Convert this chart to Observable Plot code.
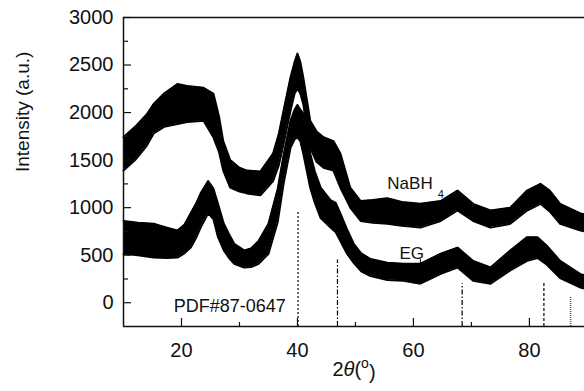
<!DOCTYPE html>
<html>
<head>
<meta charset="utf-8">
<script src="https://cdn.jsdelivr.net/npm/d3@7"></script>
<script src="https://cdn.jsdelivr.net/npm/@observablehq/plot@0.6"></script>
<style>
  html, body { margin: 0; padding: 0; background: #fff; }
  svg { display: block; }
</style>
</head>
<body>
<div id="chart"></div>
<script>
// ---- data ----
const nabhX  = [10, 12, 14, 15.2, 17, 19.3, 21, 23.8, 25.5, 26.5, 27.2, 28.4, 30, 31.3, 33.6, 35.8, 36.8, 37.6, 38.8, 39.5, 40, 40.5, 41, 42.2, 43.3, 44.5, 46.2, 47.4, 48.3, 49.1, 50.9, 53, 55.5, 58, 61.2, 64.7, 67.6, 70.3, 73.3, 76.7, 79.6, 81.9, 83.5, 85.3, 88.8, 89.5];
const nabhLo = [1390, 1500, 1650, 1780, 1850, 1880, 1900, 1915, 1740, 1580, 1390, 1210, 1170, 1150, 1130, 1280, 1450, 1670, 2020, 2200, 2250, 2200, 2090, 1630, 1480, 1420, 1390, 1210, 1100, 1000, 860, 840, 830, 810, 790, 860, 970, 860, 790, 830, 970, 1040, 960, 830, 760, 750];
const nabhHi = [1740, 1850, 1980, 2090, 2200, 2300, 2280, 2260, 2200, 1950, 1700, 1500, 1420, 1390, 1380, 1570, 1780, 2020, 2370, 2530, 2620, 2530, 2370, 1915, 1800, 1740, 1700, 1570, 1380, 1210, 1070, 1080, 1100, 1060, 1040, 1070, 1180, 1040, 970, 1000, 1180, 1250, 1180, 1040, 940, 930];

const egX  = [10, 12.5, 15.2, 17.5, 19.3, 20.5, 21.6, 22.5, 23.3, 24.6, 25.5, 26.3, 27.3, 28.2, 29.1, 30.8, 32, 33.3, 35, 36.6, 37.6, 38.8, 39.5, 40, 40.5, 41, 42.2, 43, 44, 45.7, 46.6, 47.4, 48.5, 49.7, 51, 52.6, 55.5, 58.3, 61.2, 64.7, 67.6, 70.3, 73.3, 76.7, 79.6, 81.4, 83, 85.3, 88.8, 89.5];
const egLo = [515, 500, 475, 470, 475, 520, 580, 680, 790, 940, 880, 690, 550, 470, 410, 370, 375, 410, 515, 850, 1250, 1630, 1720, 1740, 1700, 1570, 1210, 1050, 890, 790, 740, 650, 520, 420, 330, 280, 240, 230, 200, 305, 370, 230, 200, 340, 440, 470, 400, 260, 160, 150];
const egHi = [860, 840, 830, 790, 760, 820, 940, 1040, 1150, 1280, 1200, 1040, 830, 720, 620, 550, 570, 650, 830, 1200, 1550, 1910, 2030, 2080, 2030, 1990, 1570, 1380, 1210, 1080, 1050, 940, 780, 620, 520, 460, 420, 410, 410, 515, 580, 440, 370, 550, 690, 690, 600, 440, 300, 290];

// PDF#87-0647 reference lines (position, top value)
const pdfPos = [40.1, 46.9, 68.4, 82.5, 87.1];
const pdfTop = [970, 450, 200, 210, 55];

// tick values
const xMajor = [20, 40, 60, 80];
const xMinor = [30, 50, 70];
const yMajor = [0, 500, 1000, 1500, 2000, 2500, 3000];
const yMinor = [250, 750, 1250, 1750, 2250, 2750];

// ---- build tables ----
const nabh = nabhX.map((x, i) => ({x, lo: nabhLo[i], hi: nabhHi[i]}));
const eg = egX.map((x, i) => ({x, lo: egLo[i], hi: egHi[i]}));
const pdf = pdfPos.map((x, i) => ({x, top: pdfTop[i]}));

const W = 584, H = 391, mL = 123, mR = 0, mT = 17, mB = 65;
const frameW = W - mL - mR, frameH = H - mT - mB;
const dashes = ["2,2", "5,2,1.5,2", "5,2,1.5,2", "3,2", "1,1"];
const font = "'Liberation Sans', Arial, sans-serif";

const marks = [];
// reference lines
pdf.forEach((d, i) => {
  marks.push(Plot.ruleX([d], {x: "x", y1: -250, y2: "top", stroke: i === 4 ? "#555" : "#000", strokeWidth: i === 4 ? 1.6 : 1.2, strokeDasharray: dashes[i]}));
});
// bands
for (const s of [nabh, eg]) {
  marks.push(Plot.areaY(s, {x: "x", y1: "lo", y2: "hi", fill: "#000", curve: "linear"}));
  marks.push(Plot.line(s, {x: "x", y: "lo", stroke: "#000", strokeWidth: 2}));
  marks.push(Plot.line(s, {x: "x", y: "hi", stroke: "#000", strokeWidth: 2}));
}

// frame lines (left, bottom, top)
marks.push(Plot.ruleX([10], {stroke: "#111", strokeWidth: 1.5}));
marks.push(Plot.ruleY([-250], {stroke: "#111", strokeWidth: 1.5}));
marks.push(Plot.ruleY([3000], {stroke: "#111", strokeWidth: 1.5}));

// inward ticks
marks.push(Plot.tickX(xMajor, {x: d => d, insetTop: frameH - 8, stroke: "#111", strokeWidth: 1.2}));
marks.push(Plot.tickX(xMinor, {x: d => d, insetTop: frameH - 4, stroke: "#111", strokeWidth: 1.2}));
marks.push(Plot.tickY(yMajor, {y: d => d, insetRight: frameW - 8, stroke: "#111", strokeWidth: 1.2}));
marks.push(Plot.tickY(yMinor, {y: d => d, insetRight: frameW - 5, stroke: "#111", strokeWidth: 1.2}));

// tick labels
marks.push(Plot.axisX({ticks: xMajor, tickSize: 0, tickPadding: 16, fontSize: 20, label: null, tickFormat: d => String(d)}));
marks.push(Plot.axisY({ticks: yMajor, tickSize: 0, tickPadding: 10, fontSize: 20, label: null, tickFormat: d => String(d)}));

// annotations
marks.push(Plot.text(["NaBH"], {x: 55.5, y: 1253, text: d => d, textAnchor: "start", fontSize: 17, fill: "#111"}));
marks.push(Plot.text(["4"], {x: 64.2, y: 1140, text: d => d, textAnchor: "start", fontSize: 11, fill: "#111"}));
marks.push(Plot.text(["EG"], {x: 57.6, y: 516, text: d => d, textAnchor: "start", fontSize: 17, fill: "#111"}));
marks.push(Plot.ruleX([61.2], {x: d => d, y1: 360, y2: 455, stroke: "#000", strokeWidth: 1}));
marks.push(Plot.text(["PDF#87-0647"], {x: 18.67, y: -32, text: d => d, textAnchor: "start", fontSize: 18, fill: "#111"}));

// axis titles
marks.push(Plot.text(["Intensity (a.u.)"], {frameAnchor: "left", dx: -101, rotate: -90, text: d => d, fontSize: 19, fill: "#111"}));
marks.push(Plot.text(["2θ(o)"], {frameAnchor: "bottom", dy: 49, text: d => d, fontSize: 20, fill: "#111"}));

const chart = Plot.plot({
  width: W, height: H,
  marginLeft: mL, marginRight: mR, marginTop: mT, marginBottom: mB,
  style: {fontFamily: font, background: "#fff", color: "#111", overflow: "visible"},
  x: {domain: [10, 89.5], axis: null},
  y: {domain: [-250, 3000], axis: null},
  marks
});
document.getElementById("chart").appendChild(chart);

// rich text for the x title: 2θ(°) with italic theta and raised o
d3.select(chart).selectAll("text").filter(function() { return this.textContent === "2θ(o)"; })
  .each(function() {
    const t = d3.select(this);
    t.text(null);
    t.append("tspan").text("2");
    t.append("tspan").attr("font-style", "italic").text("θ");
    t.append("tspan").text("(");
    t.append("tspan").attr("font-size", 14).attr("dy", "-0.55em").text("o");
    t.append("tspan").attr("dy", "0.55em").text(")");
  });
</script>
</body>
</html>
